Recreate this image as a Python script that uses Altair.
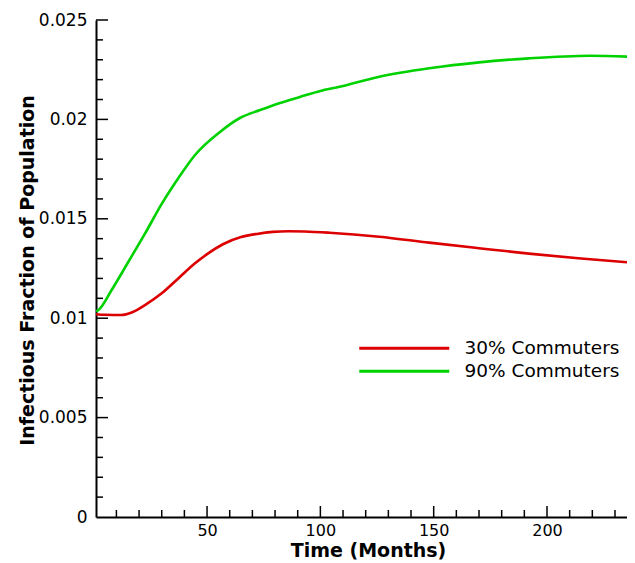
import altair as alt
import pandas as pd

# ---- data ----
series_names = ["30% Commuters", "90% Commuters"]
series_colors = ["#dc0000", "#00d200"]

red_t = [1, 5, 12, 17, 22.6, 30, 37.3, 44.7, 50, 57, 65, 72, 79, 86, 93, 104, 126, 148, 170, 192, 215, 239]
red_v = [0.01020, 0.01017, 0.01016, 0.01030, 0.01066, 0.01125, 0.01200, 0.01276, 0.01322, 0.01372,
         0.01408, 0.01424, 0.01434, 0.01437, 0.01436, 0.01430, 0.01410, 0.01380, 0.01352, 0.01325,
         0.01300, 0.01278]

green_t = [1, 2, 7.9, 15.3, 22.6, 30, 37.3, 44.7, 55.7, 64.5, 73.4, 82.2, 91, 100, 108, 126, 148, 170, 192, 219, 239]
green_v = [0.01035, 0.01041, 0.01142, 0.01284, 0.01425, 0.01575, 0.01704, 0.01821, 0.01937, 0.02007,
           0.02047, 0.02083, 0.02113, 0.02143, 0.02163, 0.02215, 0.02257, 0.02287, 0.02307, 0.02320,
           0.02314]

x_major = [50, 100, 150, 200]
x_minor = [v for v in range(10, 240, 10) if v % 50]
y_labels = [0, 0.005, 0.01, 0.015, 0.02, 0.025]
y_major = [0.005, 0.01, 0.015, 0.02, 0.025]
y_minor = [round(k * 0.001, 3) for k in range(1, 25) if k % 5]

df = pd.concat([
    pd.DataFrame({"t": red_t, "v": red_v, "s": series_names[0]}),
    pd.DataFrame({"t": green_t, "v": green_v, "s": series_names[1]}),
])

W, H = 531, 497
FONT = "DejaVu Sans"
xs = alt.Scale(domain=[1, 235.3], nice=False, zero=False)
ys = alt.Scale(domain=[0, 0.025], nice=False, zero=False)

lines = alt.Chart(df).mark_line(strokeWidth=2.6, interpolate="monotone", clip=True).encode(
    x=alt.X("t:Q", scale=xs, axis=alt.Axis(values=x_major, title="Time (Months)", format="d",
                                           titleX=272, titleY=39, titleBaseline="alphabetic",
                                           titleAlign="center", labelPadding=5, labelFontSize=16)),
    y=alt.Y("v:Q", scale=ys, axis=alt.Axis(values=y_labels, format="~g",
                                           title="Infectious Fraction of Population",
                                           titleX=-63, titleY=250, titleAngle=270,
                                           titleBaseline="alphabetic", titleAlign="center",
                                           labelPadding=9)),
    color=alt.Color("s:N", scale=alt.Scale(domain=series_names, range=series_colors),
                    legend=alt.Legend(title=None, orient="none", legendX=299, legendY=319,
                                      symbolType="M-9,0H9", symbolSize=100, symbolStrokeWidth=3,
                                      labelFont=FONT, labelFontSize=18.5, labelColor="black",
                                      labelOffset=51, rowPadding=4, padding=0, labelLimit=400)),
)

xmaj = alt.Chart(pd.DataFrame({"t": x_major})).mark_rule(color="black", strokeWidth=1.5).encode(
    x=alt.X("t:Q", scale=xs), y=alt.value(H), y2=alt.value(H - 11))
xmin = alt.Chart(pd.DataFrame({"t": x_minor})).mark_rule(color="black", strokeWidth=1.5).encode(
    x=alt.X("t:Q", scale=xs), y=alt.value(H), y2=alt.value(H - 7))
ymaj = alt.Chart(pd.DataFrame({"v": y_major})).mark_rule(color="black", strokeWidth=1.5).encode(
    y=alt.Y("v:Q", scale=ys), x=alt.value(0), x2=alt.value(12))
ymin = alt.Chart(pd.DataFrame({"v": y_minor})).mark_rule(color="black", strokeWidth=1.5).encode(
    y=alt.Y("v:Q", scale=ys), x=alt.value(0), x2=alt.value(7))

chart = alt.layer(lines, xmaj, xmin, ymaj, ymin).properties(
    width=W, height=H,
    padding={"left": 88, "top": 12, "right": 0, "bottom": 43},
    autosize=alt.AutoSizeParams(type="none"),
    background="white",
).configure_view(stroke=None).configure_axis(
    grid=False, ticks=False, domainColor="black", domainWidth=2,
    labelFont=FONT, labelFontSize=17, labelColor="black", labelFlush=False,
    titleFont=FONT, titleFontSize=19, titleFontWeight="bold", titleColor="black",
)

chart.save("out.html", embed_options={"renderer": "svg", "actions": False})
